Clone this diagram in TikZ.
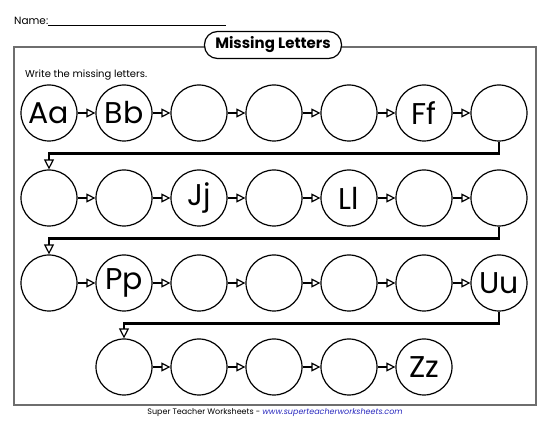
\documentclass[tikz,border=0pt]{standalone}
\usepackage{fontspec}
\setmainfont{Poppins}
\usetikzlibrary{arrows.meta}
\definecolor{framegray}{RGB}{110,110,110}
\definecolor{urlblue}{RGB}{40,40,190}
\tikzstyle{letter} = [draw, circle, line width=1.2pt, minimum size=56pt, inner sep=0pt, font=\fontsize{30}{30}\selectfont]
\tikzstyle{arrow} = [line width=1.8pt, -{Triangle[open, length=9pt, width=9pt, line width=1.2pt]}]
\tikzstyle{turn} = [line width=2.6pt, -{Triangle[open, length=10pt, width=10pt, line width=1.2pt]}]
\tikzstyle{title} = [draw, fill=white, line width=1.2pt, rounded corners=13pt, minimum width=137pt, minimum height=27pt, font=\bfseries\fontsize{15}{15}\selectfont]

\begin{document}
\begin{tikzpicture}[x=1pt, y=-1pt]
  \useasboundingbox (0,0) rectangle (550,425);

  % Name line
  \node[anchor=base west, inner sep=0pt, font=\fontsize{10.5}{10.5}\selectfont] (name) at (14,25) {Name:};
  \draw[line width=0.8pt] (name.base east) -- ++(178,0);

  % Frame and title
  \draw[framegray, line width=1.5pt] (14,47) rectangle (536,405);
  \node[title] (head) at (273,45) {Missing Letters};
  \node[anchor=base west, inner sep=0pt, font=\fontsize{10}{10}\selectfont] (task) at (25,78) {Write the missing letters.};

  % Rows of circles
  \foreach \lab [count=\i] in {Aa,Bb,{},{},{},Ff,{}}
    \node[letter] (a\i) at ({49+75*(\i-1)},113) {\lab};
  \foreach \lab [count=\i] in {{},{},Jj,{},Ll,{},{}}
    \node[letter] (b\i) at ({49+75*(\i-1)},198) {\lab};
  \foreach \lab [count=\i] in {{},Pp,{},{},{},{},Uu}
    \node[letter] (c\i) at ({49+75*(\i-1)},283) {\lab};
  \foreach \lab [count=\i] in {{},{},{},{},Zz}
    \node[letter] (d\i) at ({124+75*(\i-1)},367) {\lab};

  % Arrows in each row
  \foreach \i/\j in {1/2,2/3,3/4,4/5,5/6,6/7} {
    \draw[arrow] (a\i) -- (a\j);
    \draw[arrow] (b\i) -- (b\j);
    \draw[arrow] (c\i) -- (c\j);
  }
  \foreach \i/\j in {1/2,2/3,3/4,4/5}
    \draw[arrow] (d\i) -- (d\j);

  % Turns between rows
  \draw[turn] (a7.south) -- ++(0,12) -| (b1.north);
  \draw[turn] (b7.south) -- ++(0,12) -| (c1.north);
  \draw[turn] (c7.south) -- ++(0,12) -| (d1.north);

  % Footer
  \node[font=\fontsize{8}{9}\selectfont] (foot) at (275,413) {Super Teacher Worksheets - \textcolor{urlblue}{\itshape www.superteacherworksheets.com}};

\end{tikzpicture}
\end{document}
